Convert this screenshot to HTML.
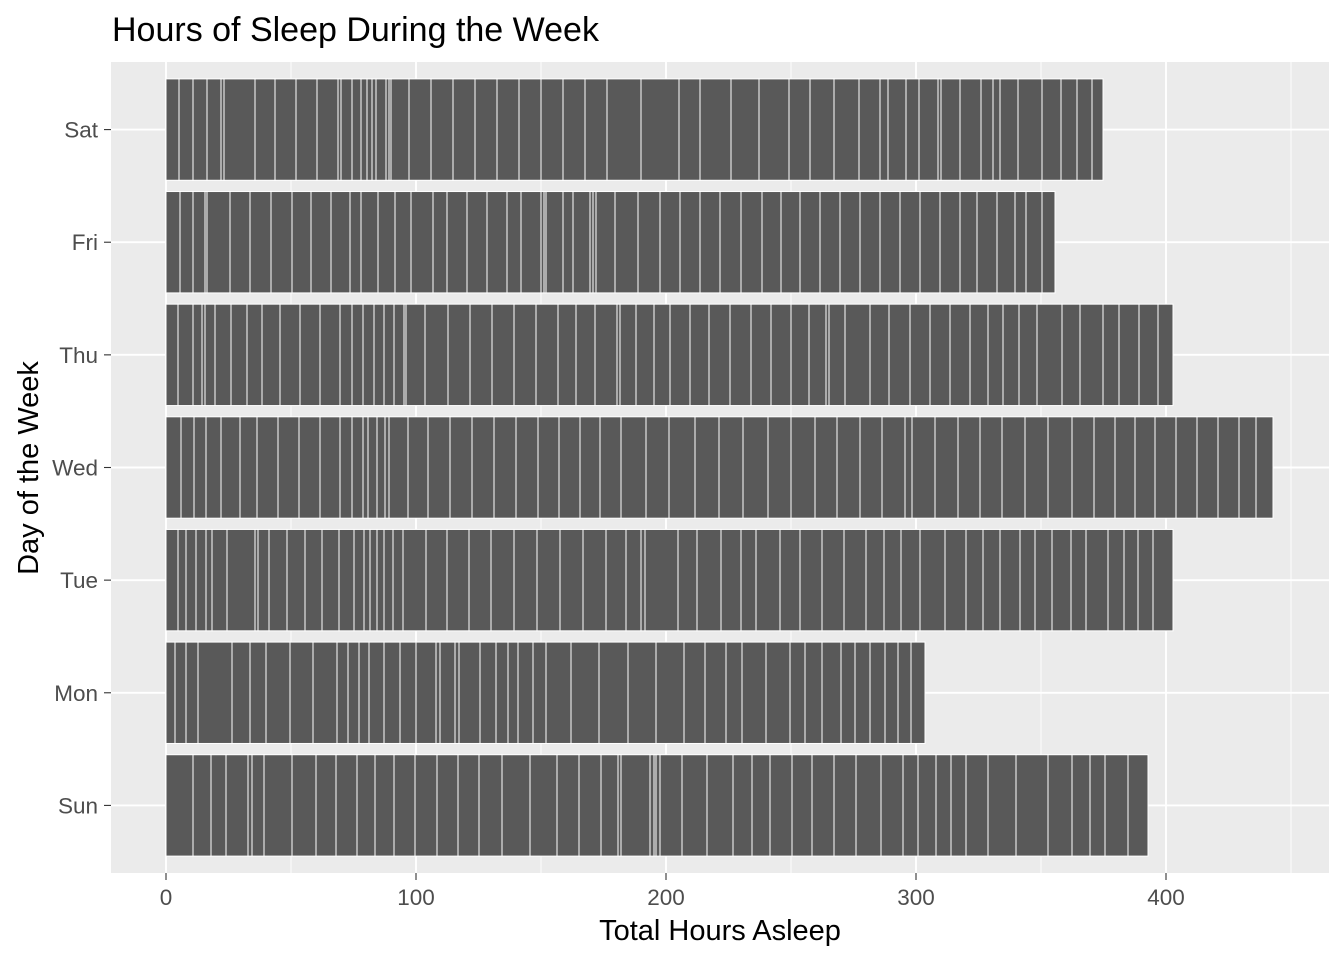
<!DOCTYPE html>
<html><head><meta charset="utf-8"><style>
body{margin:0;background:#fff;font-family:"Liberation Sans",Arial,sans-serif}
svg text{font-family:"Liberation Sans",Arial,sans-serif}
</style></head><body>
<svg id="chart" width="1344" height="960"></svg>
<script>
const days = ["Sun","Mon","Tue","Wed","Thu","Fri","Sat"];
const satHours = [5.2,5.6,5.6,5.6,1.2,12.4,8,8.4,8.4,8.4,1.2,4.4,3.6,2.4,2,1.6,4,1.2,0.8,7.2,8.8,8.8,8.8,8.8,8.8,8.8,8.8,8.8,8.8,13.6,15.2,8.4,12.4,11.2,12,8.4,9.6,10,8.4,3.2,7.2,5.2,7.6,1.2,7.6,8.4,4.8,2.8,7.2,9.6,7.6,6.4,6,4.4];
const friHours = [5.6,5.2,4.8,0.8,9.2,8,8.4,8.4,7.6,8,7.6,4.4,6.8,6.8,6.4,8.8,5.6,8,8,8,5.6,8,1.2,0.8,6.8,4,6.8,1.2,1.2,7.6,9.2,8.8,8,8,8,8.4,8.4,7.6,7.6,8,8,8,8,8,8,8,8,6.8,8,7.2,4.4,6.4,5.2];
const thuHours = [4.8,6,3.6,1.2,4,6.4,6.4,6,7.2,8,8,8,4.8,4.4,4.4,4,4,4,0.8,7.6,9.2,8.8,8.8,8.8,8.8,8.8,7.2,7.6,8.8,1.2,6.4,7.2,6.4,8,7.6,8.4,8.4,8,8,7.2,6.8,1.2,6.4,10,7.6,8.4,8,8,8,7.2,6,6.4,7.2,10,7.2,9.2,6.4,8,7.6,6];
const wedHours = [6,5.2,4.8,6,7.6,6.8,8.4,8.4,8.4,8,4.8,4.4,2,3.6,3.2,1.6,7.6,8,8.8,8.8,8.8,8.8,8.8,8.4,8.4,8,8.4,10,9.2,10.4,9.6,9.6,10,9.2,9.6,8.8,9.2,8.8,9.2,2.8,9.2,9.2,8.8,8.8,9.2,9.2,9.6,8.8,8.4,8,8,8.4,8.4,8.4,8.4,6.8,6.8];
const tueHours = [4.8,3.2,4,4,2.4,6,11.2,1.2,4.4,7.2,7.2,6.8,6.8,6,4,2.4,2.8,2.8,3.6,4,9.2,8.4,8.8,8.8,9.2,9.2,9.2,9.2,9.2,8,6,1.6,13.2,7.6,9.6,8,6,9.6,8,8.8,8.8,8.8,7.2,6.8,7.6,10,8.4,6.8,6.8,8,6,6.8,7.6,6,8.8,6.4,5.6,6,8];
const monHours = [3.6,4.4,4.8,13.6,7.2,6.4,9.6,9.2,9.6,4.4,4.4,4,6,6.4,6.4,8,1.6,6,1.6,8.4,6.4,4.8,4,6,5.2,10,11.2,11.6,11.2,11.2,8.4,8.4,6.4,9.6,9.6,6,6.8,7.6,5.6,6,6,5.2,5.2,5.6];
const sunHours = [10.8,7.2,6,8.8,1.6,4.8,11.2,9.6,8,8.4,7.2,7.6,8.4,8.8,8.4,8.4,9.2,11.2,10.8,8.8,8.8,6.8,1.2,11.6,1.6,0.8,1.6,8.8,10,10.4,7.6,7.2,8.8,8,8.8,8.8,10,8.8,6,7.2,6,6,8.8,11.2,12.8,9.6,7.2,6,9.2,8];
const xTicks = [0,100,200,300,400];
const xMinor = [50,150,250,350,450];

const svg = document.getElementById('chart');
const NS = 'http://www.w3.org/2000/svg';
const P = {l:111, r:1329, t:62, b:873};
const xMin = -22, xMax = 465.2;
const x = v => P.l + (v - xMin) / (xMax - xMin) * (P.r - P.l);
const step = (P.b - P.t) / (days.length - 1 + 1.2);
const y = i => P.b - step * (i + 0.6);
function mk(tag, attrs, text){ const e=document.createElementNS(NS,tag); for(const k in attrs) e.setAttribute(k,attrs[k]); if(text!==undefined) e.textContent=text; svg.appendChild(e); return e; }

let e = mk('rect',{x:P.l,y:P.t,width:P.r-P.l,height:P.b-P.t,fill:'#EBEBEB'});


xMinor.forEach(v=>{ const g=mk('line',{x1:x(v),x2:x(v),y1:P.t,y2:P.b,stroke:'#fff','stroke-width':0.9});

 });
xTicks.forEach(v=>{ const g=mk('line',{x1:x(v),x2:x(v),y1:P.t,y2:P.b,stroke:'#fff','stroke-width':1.9});

 });
days.forEach((d,i)=>{ const g=mk('line',{x1:P.l,x2:P.r,y1:y(i),y2:y(i),stroke:'#fff','stroke-width':1.9});

 });

const series = [sunHours,monHours,tueHours,wedHours,thuHours,friHours,satHours];
const bw = step*0.9;
series.forEach((arr,i)=>{
  let cum = 0;
  arr.forEach(h=>{
    const r = mk('rect',{x:x(cum),y:y(i)-bw/2,width:x(cum+h)-x(cum),height:bw,fill:'#595959',stroke:'#fff','stroke-width':1});
    
    
    cum += h;
  });
});

days.forEach((d,i)=>{
  const t=mk('line',{x1:104,x2:P.l,y1:y(i),y2:y(i),stroke:'#333','stroke-width':1.1});
  
  
  const l=mk('text',{x:98,y:y(i)+8,'text-anchor':'end','font-size':22.5,fill:'#4D4D4D'},d);
  
  
});
xTicks.forEach(v=>{
  const t=mk('line',{x1:x(v),x2:x(v),y1:P.b,y2:P.b+7,stroke:'#333','stroke-width':1.1});
  
  
  const l=mk('text',{x:x(v),y:905,'text-anchor':'middle','font-size':22.5,fill:'#4D4D4D'},v);
  
  
});
e=mk('text',{x:720,y:940,'text-anchor':'middle','font-size':29,fill:'#000'},'Total Hours Asleep');


e=mk('text',{x:0,y:0,'text-anchor':'middle','font-size':29,fill:'#000',transform:'translate(38,468) rotate(-90)'},'Day of the Week');


e=mk('text',{x:112,y:41,'font-size':34,fill:'#000'},'Hours of Sleep During the Week');


</script>
</body></html>
